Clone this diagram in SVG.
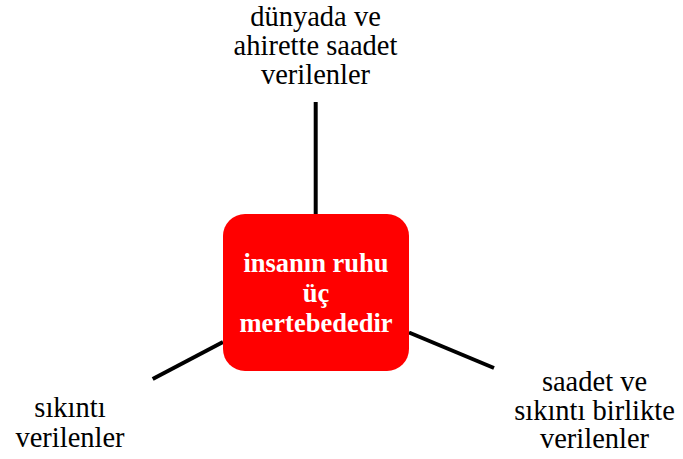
<svg xmlns="http://www.w3.org/2000/svg" width="683" height="459" viewBox="0 0 683 459">
<style>
text{font-family:'Liberation Serif','Times New Roman',Times,serif}
.lbl{font-size:28.5px;fill:#000;text-anchor:middle}
.ctr{font-size:26.5px;font-weight:bold;fill:#fff;text-anchor:middle}
.con{stroke:#000;stroke-width:4;fill:none}
</style>
<rect width="683" height="459" fill="#fff"/>
<g id="connectors">
<line class="con" x1="315.7" y1="102" x2="315.7" y2="214"/>
<line class="con" x1="152.7" y1="379" x2="223" y2="342"/>
<line class="con" x1="409" y1="332.5" x2="494" y2="368"/>
</g>
<g id="center">
<rect x="223" y="214" width="186" height="157" rx="22" ry="22" fill="#ff0000"/>
<text class="ctr" font-family="Liberation Serif, serif" x="316" y="272">insanın ruhu</text>
<text class="ctr" font-family="Liberation Serif, serif" x="316" y="302">üç</text>
<text class="ctr" font-family="Liberation Serif, serif" x="316" y="332">mertebededir</text>
</g>
<g id="top">
<text class="lbl" font-family="Liberation Serif, serif" x="315.5" y="26">dünyada ve</text>
<text class="lbl" font-family="Liberation Serif, serif" x="315.5" y="55">ahirette saadet</text>
<text class="lbl" font-family="Liberation Serif, serif" x="315.5" y="84">verilenler</text>
</g>
<g id="left">
<text class="lbl" font-family="Liberation Serif, serif" x="70" y="417">sıkıntı</text>
<text class="lbl" font-family="Liberation Serif, serif" x="70" y="447">verilenler</text>
</g>
<g id="right">
<text class="lbl" font-family="Liberation Serif, serif" x="594.5" y="391">saadet ve</text>
<text class="lbl" font-family="Liberation Serif, serif" x="594.5" y="420">sıkıntı birlikte</text>
<text class="lbl" font-family="Liberation Serif, serif" x="594.5" y="448">verilenler</text>
</g>
</svg>
